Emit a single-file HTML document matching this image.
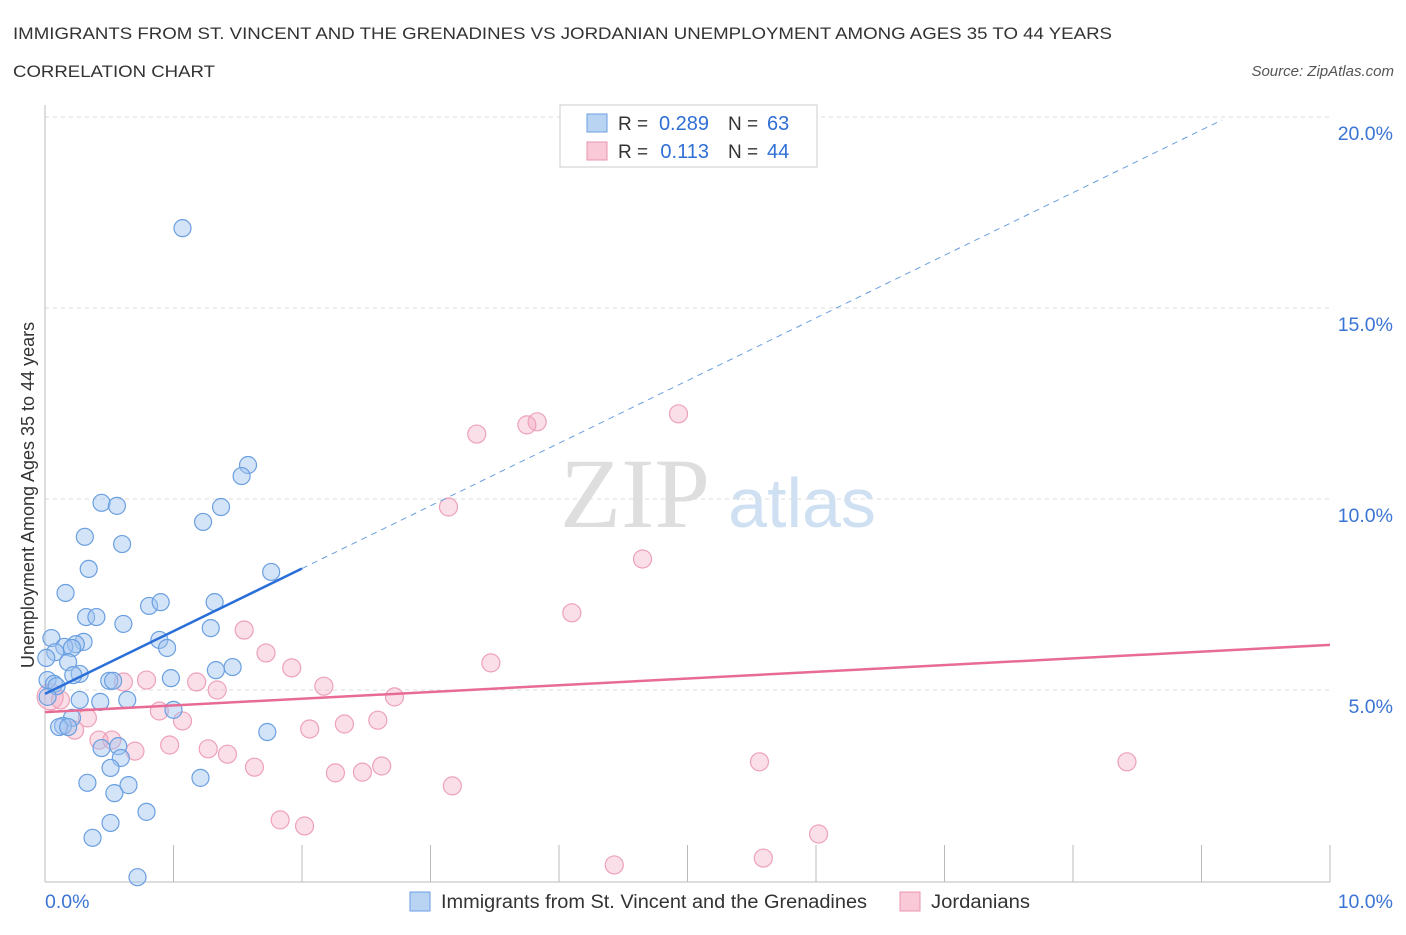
<!DOCTYPE html>
<html><head><meta charset="utf-8"><style>
body{margin:0;background:#fff;font-family:"Liberation Sans",sans-serif}
</style></head><body>
<svg width="1406" height="930" id="chart" font-family="Liberation Sans, sans-serif">
<text x="13" y="39" font-size="17" fill="#333" textLength="1099" lengthAdjust="spacingAndGlyphs">IMMIGRANTS FROM ST. VINCENT AND THE GRENADINES VS JORDANIAN UNEMPLOYMENT AMONG AGES 35 TO 44 YEARS</text>
<text x="13" y="77" font-size="17" fill="#333" textLength="202" lengthAdjust="spacingAndGlyphs">CORRELATION CHART</text>
<text x="1394" y="76" font-size="15" fill="#555" font-style="italic" text-anchor="end">Source: ZipAtlas.com</text>
<text x="635" y="527" font-size="100" fill="#dedede" style="font-family:'Liberation Serif',serif" text-anchor="middle">ZIP</text>
<text x="802" y="527" font-size="70" fill="#cfe0f3" text-anchor="middle">atlas</text>
<text transform="translate(34,495) rotate(-90)" font-size="18" fill="#333" text-anchor="middle">Unemployment Among Ages 35 to 44 years</text>
<g id="grid"></g><g id="marks"></g>
<g>
<rect x="560" y="105" width="257" height="62" fill="#fff" stroke="#ccc"/>
<rect x="587" y="114" width="20" height="18" fill="#b9d3f3" stroke="#6a9fe0"/>
<rect x="587" y="142" width="20" height="18" fill="#f9c9d8" stroke="#eb95b0"/>
<text x="618" y="130" font-size="19" fill="#333">R =</text>
<text x="709" y="130" font-size="20" fill="#2f6fd6" text-anchor="end">0.289</text>
<text x="728" y="130" font-size="19" fill="#333">N =</text>
<text x="767" y="130" font-size="20" fill="#2f6fd6">63</text>
<text x="618" y="158" font-size="19" fill="#333">R =</text>
<text x="709" y="158" font-size="20" fill="#2f6fd6" text-anchor="end">0.113</text>
<text x="728" y="158" font-size="19" fill="#333">N =</text>
<text x="767" y="158" font-size="20" fill="#2f6fd6">44</text>
</g>
<g>
<rect x="410" y="892" width="20" height="19" fill="#b9d3f3" stroke="#6a9fe0"/>
<text x="441" y="908" font-size="19" fill="#333" textLength="426" lengthAdjust="spacingAndGlyphs">Immigrants from St. Vincent and the Grenadines</text>
<rect x="900" y="892" width="20" height="19" fill="#f9c9d8" stroke="#eb95b0"/>
<text x="931" y="908" font-size="19" fill="#333" textLength="99" lengthAdjust="spacingAndGlyphs">Jordanians</text>
</g>
</svg>
<script>
const blueX=[1.07,1.58,1.53,0.44,0.56,1.37,1.23,0.31,0.60,0.34,1.76,0.16,0.81,0.90,1.32,0.32,0.40,0.61,1.29,0.89,0.95,0.05,0.30,0.24,0.15,0.21,0.08,0.01,0.18,0.27,0.22,1.46,1.33,0.98,0.50,0.53,0.02,0.07,0.09,0.02,0.27,0.43,0.64,1.00,0.21,0.14,0.11,1.73,0.44,0.57,0.59,0.51,0.33,0.65,0.54,1.21,0.79,0.51,0.37,0.72,0.18];
const blueY=[17.09,10.89,10.60,9.90,9.82,9.79,9.40,9.01,8.82,8.17,8.09,7.54,7.20,7.30,7.30,6.91,6.91,6.73,6.62,6.31,6.10,6.36,6.26,6.20,6.13,6.10,5.99,5.84,5.73,5.42,5.39,5.60,5.52,5.31,5.24,5.24,5.26,5.16,5.10,4.82,4.74,4.69,4.74,4.48,4.27,4.06,4.03,3.90,3.48,3.53,3.22,2.96,2.57,2.51,2.30,2.70,1.81,1.52,1.13,0.10,4.03];
const pinkX=[4.93,3.83,3.75,3.36,3.14,4.65,4.10,1.55,1.72,1.92,3.47,2.17,2.72,0.79,0.61,1.18,1.34,0.89,1.07,2.59,2.33,2.06,0.33,0.23,0.52,0.42,0.97,1.27,1.42,0.70,1.63,2.62,2.26,2.47,3.17,5.56,8.42,1.83,2.02,6.02,4.43,5.59,0.04,0.12];
const pinkY=[12.23,12.02,11.94,11.70,9.79,8.43,7.02,6.57,5.97,5.58,5.71,5.10,4.82,5.26,5.21,5.21,5.00,4.45,4.19,4.21,4.11,3.98,4.27,3.95,3.69,3.69,3.56,3.46,3.32,3.40,2.98,3.01,2.83,2.85,2.49,3.12,3.12,1.60,1.44,1.23,0.42,0.60,4.82,4.74];
const yTicks=[5,10,15,20];
const xTicks=[0,1,2,3,4,5,6,7,8,9,10];
const blueTrend=[4.9,1.64], pinkTrend=[4.42,0.176];
const NS='http://www.w3.org/2000/svg';
const sx=v=>45+v*128.5, sy=v=>881-v*38.2;
function mk(t,a,p){const e=document.createElementNS(NS,t);for(const k in a)e.setAttribute(k,a[k]);document.getElementById(p).appendChild(e);return e;}
yTicks.forEach(t=>{
 const l=mk('line',{x1:45,x2:1330,y1:sy(t),y2:sy(t),stroke:'#ddd','stroke-dasharray':'4,4'},'grid');
 
 
 const tx=mk('text',{x:1393,y:sy(t)+23,'font-size':19.5,fill:'#3a74d4','text-anchor':'end'},'grid');tx.textContent=t.toFixed(1)+'%';
 
 
});
mk('line',{x1:45,x2:1330,y1:117,y2:117,stroke:'#ddd','stroke-dasharray':'4,4'},'grid');
mk('line',{x1:45,x2:45,y1:105,y2:882,stroke:'#bbb'},'grid');
mk('line',{x1:45,x2:1330,y1:882,y2:882,stroke:'#bbb'},'grid');
xTicks.forEach(t=>{const l=mk('line',{x1:sx(t),x2:sx(t),y1:845,y2:882,stroke:'#bbb'},'grid');
 
 });
[[0,'0.0%',45,'start'],[10,'10.0%',1393,'end']].forEach(a=>{const tx=mk('text',{x:a[2],y:908,'font-size':19.5,fill:'#3a74d4','text-anchor':a[3]},'grid');tx.textContent=a[1];
 
 });
pinkX.forEach((x,i)=>{const c=mk('circle',{cx:sx(x),cy:sy(pinkY[i]),r:i==42?13:9,fill:'rgba(244,164,190,0.35)',stroke:'#eda1b9','stroke-width':1.2},'marks');
 
 });
blueX.forEach((x,i)=>{const c=mk('circle',{cx:sx(x),cy:sy(blueY[i]),r:8.5,fill:'rgba(160,196,240,0.45)',stroke:'#6a9fe0','stroke-width':1.2},'marks');
 
 });
let l=mk('line',{x1:sx(0),y1:sy(blueTrend[0]),x2:sx(2),y2:sy(blueTrend[0]+2*blueTrend[1]),stroke:'#2a6fd8','stroke-width':2.5},'marks');


l=mk('line',{x1:sx(2),y1:sy(blueTrend[0]+2*blueTrend[1]),x2:sx(9.16),y2:sy(blueTrend[0]+9.16*blueTrend[1]),stroke:'#6a9fe0','stroke-width':1,'stroke-dasharray':'6,5'},'marks');


l=mk('line',{x1:sx(0),y1:sy(pinkTrend[0]),x2:sx(10),y2:sy(pinkTrend[0]+10*pinkTrend[1]),stroke:'#e86b96','stroke-width':2.5},'marks');


</script>
</body></html>
